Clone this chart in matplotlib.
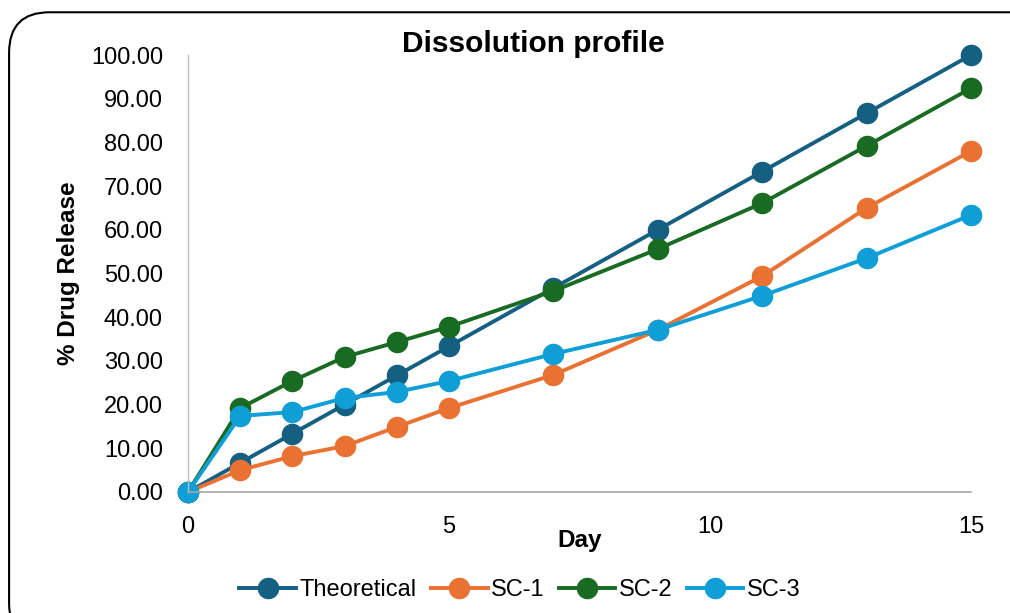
import matplotlib.pyplot as plt
from matplotlib.patches import FancyBboxPatch

days = [0, 1, 2, 3, 4, 5, 7, 9, 11, 13, 15]
theoretical = [0, 6.67, 13.33, 20.0, 26.67, 33.33, 46.67, 60.0, 73.33, 86.67, 100.0]
sc1 = [0, 5.0, 8.2, 10.5, 14.9, 19.2, 26.8, 37.1, 49.4, 65.0, 78.0]
sc2 = [0, 19.2, 25.4, 30.9, 34.3, 37.8, 46.0, 55.6, 66.1, 79.2, 92.4]
sc3 = [0, 17.4, 18.3, 21.5, 22.9, 25.4, 31.6, 37.1, 44.9, 53.5, 63.4]

series = [("Theoretical", theoretical, "#156082"),
          ("SC-1", sc1, "#E97132"),
          ("SC-2", sc2, "#196B24"),
          ("SC-3", sc3, "#0F9ED5")]

plt.rcParams['font.family'] = ['Liberation Sans', 'DejaVu Sans']

fig = plt.figure(figsize=(10.1, 6.13), dpi=100)
# rounded chart border, drawn behind the axes
frame = FancyBboxPatch((0.009, -0.05), 1.05, 1.03, transform=fig.transFigure,
                       boxstyle="round,pad=0,rounding_size=0.04",
                       facecolor="white", edgecolor="black", linewidth=1.5,
                       mutation_aspect=10.1 / 6.13, zorder=-10)
fig.patches.append(frame)

ax = fig.add_axes([188 / 1010, 1 - 492 / 613, (971 - 188) / 1010, (492 - 55) / 613])
ax.set_facecolor("none")
ax.set_zorder(5)

for name, vals, col in series:
    ax.plot(days, vals, color=col, linewidth=2.8, marker="o", markersize=14.5,
            label=name, clip_on=False)

ax.set_xlim(0, 15)
ax.set_ylim(0, 100)
ax.set_xticks([0, 5, 10, 15])
ax.set_yticks(range(0, 101, 10))
ax.set_yticklabels([f"{v:.2f}" for v in range(0, 101, 10)])
ax.tick_params(axis="both", length=0, labelsize=17, colors="black")
ax.tick_params(axis="x", pad=17)
ax.tick_params(axis="y", pad=18)

for s in ["top", "right"]:
    ax.spines[s].set_visible(False)
ax.spines["left"].set_color("#bfbfbf")
ax.spines["bottom"].set_color("#a6a6a6")
ax.spines["left"].set_linewidth(1)
ax.spines["bottom"].set_linewidth(1.2)

fig.text(533 / 1010, 1 - 44 / 613, "Dissolution profile", fontsize=21.5,
         fontweight="bold", ha="center", va="center")
ax.set_xlabel("Day", fontsize=17.5, fontweight="bold", labelpad=-6)
ax.set_ylabel("% Drug Release", fontsize=17.5, fontweight="bold", labelpad=8)

fig.legend(loc="center", bbox_to_anchor=(520 / 1010, 1 - 590 / 613), ncol=4, frameon=False,
           fontsize=17, handlelength=2.4, columnspacing=0.6, handletextpad=0.15)

fig.savefig("out.png", dpi=100)
